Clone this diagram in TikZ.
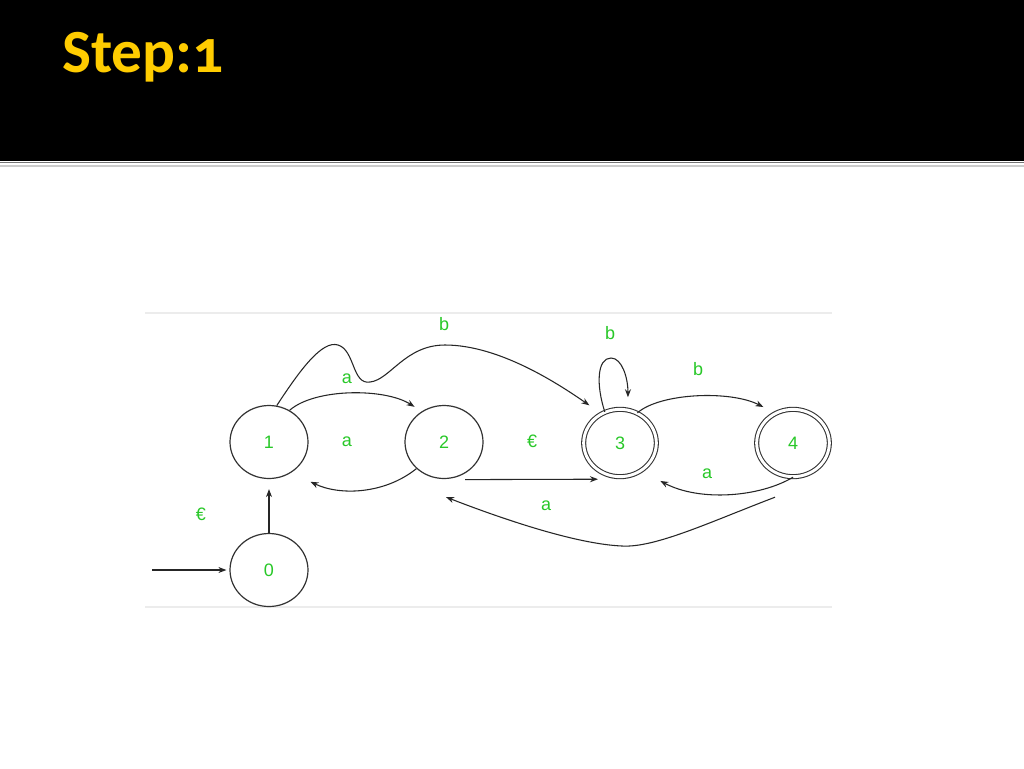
\documentclass[tikz,border=0pt]{standalone}
\usepackage{fontspec}
\setmainfont{Liberation Sans}
\newfontfamily\titlefont[Numbers=OldStyle]{Carlito}
\usetikzlibrary{shapes.geometric,arrows.meta}
\definecolor{titleyellow}{RGB}{255,204,0}
\definecolor{lblgreen}{RGB}{40,200,40}
\definecolor{framegray}{RGB}{236,236,236}
\tikzset{
  state/.style={ellipse,draw=black!80,line width=0.9pt,minimum width=58.5pt,minimum height=54.75pt,inner sep=0pt,text=lblgreen,font=\fontsize{13.5}{16}\selectfont},
  accstate/.style={ellipse,draw=black!80,line width=0.8pt,double,double distance=2.2pt,minimum width=54.5pt,minimum height=50.5pt,inner sep=0pt,text=lblgreen,font=\fontsize{13.5}{16}\selectfont},
  lbl/.style={text=lblgreen,font=\fontsize{13.5}{16}\selectfont,inner sep=0pt},
  edge/.style={draw=black!85,line width=0.8pt,-{Stealth[length=6pt,width=4.5pt]}},
  plain/.style={draw=black!85,line width=0.8pt}
}
\begin{document}
\begin{tikzpicture}[x=0.75pt,y=-0.75pt]
\useasboundingbox (0,0) rectangle (1024,768);
\fill[white] (0,0) rectangle (1024,768);
% header band
\fill[black] (0,0) rectangle (1024,161);
\draw[black!55,line width=1.2pt] (0,162.5) -- (1024,162.5);
\draw[black!20,line width=1.5pt] (0,165.5) -- (1024,165.5);
\node[anchor=base west,inner sep=0pt,text=titleyellow,font=\titlefont\bfseries\fontsize{46}{50}\selectfont] (title) at (62,72) {Step:1};
% faint image frame
\draw[framegray,line width=0.8pt] (145,313) -- (832,313);
\draw[framegray,line width=0.8pt] (145,607) -- (832,607);
% states
\node[state] (n1) at (269,442) {1};
\node[state] (n2) at (444,442) {2};
\node[state] (n0) at (269,570) {0};
\node[accstate] (n3) at (620,443) {3};
\node[accstate] (n4) at (793,443) {4};
% start arrow
\coordinate (start) at (152,570);
\draw[edge] (start) -- ([shift={(-3,0)}]n0.west);
% 0 -> 1
\draw[edge] (n0.north) -- ([shift={(0,10)}]n1.south);
% 1 -> 2 (a)
\draw[edge] (n1.57) .. controls (315,388) and (385,388) .. ([shift={(-5,-6)}]n2.130);
% 2 -> 1 (a)
\draw[edge] (n2.224) .. controls (385,494) and (340,496) .. ([shift={(12,15)}]n1.-40);
% 1 -> 3 (b) wavy
\draw[edge] (n1.78) .. controls (300,370) and (322,340) .. (338,345)
  .. controls (355,350) and (352,385) .. (370,382)
  .. controls (390,380) and (405,345) .. (445,345)
  .. controls (500,345) and (560,385) .. ([shift={(-9,-10)}]n3.128);
% loop on 3 (b)
\draw[edge] (n3.116) .. controls (596,385) and (597,358) .. (611,358)
  .. controls (622,358) and (628,378) .. ([shift={(2,-12)}]n3.80);
% 3 -> 4 (b)
\draw[edge] (n3.60) .. controls (660,393) and (730,390) .. ([shift={(-7,-9)}]n4.130);
% 4 -> 3 (a)
\draw[edge] (n4.south) .. controls (760,497) and (700,502) .. ([shift={(13,15)}]n3.-40);
% 2 -> 3 (epsilon)
\draw[edge] ([shift={(21,0.5)}]n2.south) -- ([shift={(-22,2)}]n3.south);
% 4 -> 2 (a)
\draw[edge] ([shift={(-18,20)}]n4.south) .. controls (710,522) and (655,548) .. (622,546)
  .. controls (575,544) and (500,518) .. ([shift={(2,18)}]n2.south);
% labels
\node[lbl] (la12) at (347,379) {a};
\node[lbl] (la21) at (347,442) {a};
\node[lbl] (le01) at (201,514) {€};
\node[lbl] (le23) at (532,441) {€};
\node[lbl] (lb13) at (444,324) {b};
\node[lbl] (lb33) at (610,333) {b};
\node[lbl] (lb34) at (698,369) {b};
\node[lbl] (la43) at (707,474) {a};
\node[lbl] (la42) at (546,506) {a};
\end{tikzpicture}
\end{document}
